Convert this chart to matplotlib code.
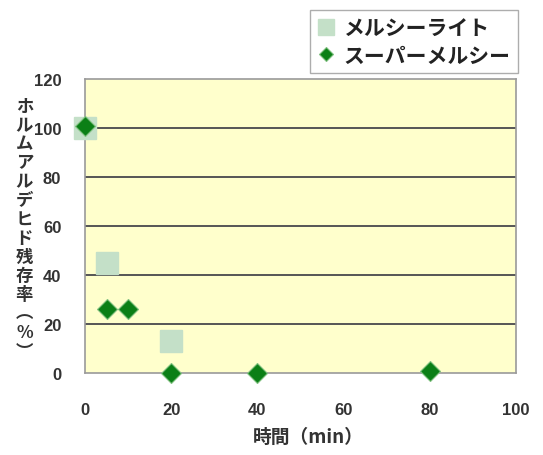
import matplotlib
matplotlib.use("Agg")
import matplotlib.pyplot as plt

plt.rcParams['font.family'] = ['Noto Sans CJK JP', 'DejaVu Sans']

# data
light_x = [0, 5, 20]
light_y = [100, 45, 13]
super_x = [0, 5, 10, 20, 40, 80]
super_y = [101, 26, 26, 0, 0, 1]
series_names = ['メルシーライト', 'スーパーメルシー']
xticks = [0, 20, 40, 60, 80, 100]
yticks = [0, 20, 40, 60, 80, 100, 120]
ylabel = 'ホルムアルデヒド残存率︵%︶'
xlabel = '時間（min）'

fig = plt.figure(figsize=(5.43, 4.56), dpi=100)
ax = fig.add_axes([0.1565, 0.1798, 0.7935, 0.6448])
ax.set_facecolor('#FFFFCC')
ax.set_xlim(0, 100)
ax.set_ylim(0, 120)

for y in yticks[1:-1]:
    ax.axhline(y, color='#555555', lw=1.4, zorder=1)

ax.plot(light_x, light_y, linestyle='none', marker='s', markersize=15.5,
        color='#C4E0C8', markeredgecolor='#C4E0C8', zorder=3, clip_on=False,
        label=series_names[0])
ax.plot(super_x, super_y, linestyle='none', marker='D', markersize=10,
        color='#0B7F16', markeredgecolor='#7FC07F', markeredgewidth=0.8,
        zorder=4, clip_on=False, label=series_names[1])

for s in ax.spines.values():
    s.set_color('#9A9A9A')
    s.set_linewidth(1.2)

ax.set_xticks(xticks)
ax.set_yticks(yticks)
ax.tick_params(length=0, colors='#333333', labelsize=12)
ax.tick_params(axis='x', pad=21)
ax.tick_params(axis='y', pad=17)
for lab in ax.get_xticklabels() + ax.get_yticklabels():
    lab.set_family(['Liberation Sans Narrow', 'Liberation Sans', 'DejaVu Sans'])
    lab.set_fontweight('bold')

fig.text(0.045, 0.497, "\n".join(ylabel), ha='center', va='center',
         fontsize=12.5, color='#333333', linespacing=1.06, fontweight='bold')
fig.text(0.567, 0.04, xlabel, ha='center', va='center', fontsize=13.5,
         color='#333333', fontweight='bold')

leg = ax.legend(loc='upper right', bbox_to_anchor=(1.005, 1.235), frameon=True,
                fancybox=False, edgecolor='#999999',
                handletextpad=0.45, borderpad=0.35, labelspacing=0.3,
                handlelength=0.8, markerscale=0.75, borderaxespad=0,
                prop={'weight': 'bold', 'size': 15})
leg.get_frame().set_linewidth(1.0)
for t in leg.get_texts():
    t.set_color('#222222')

fig.savefig('out.png', dpi=100)
